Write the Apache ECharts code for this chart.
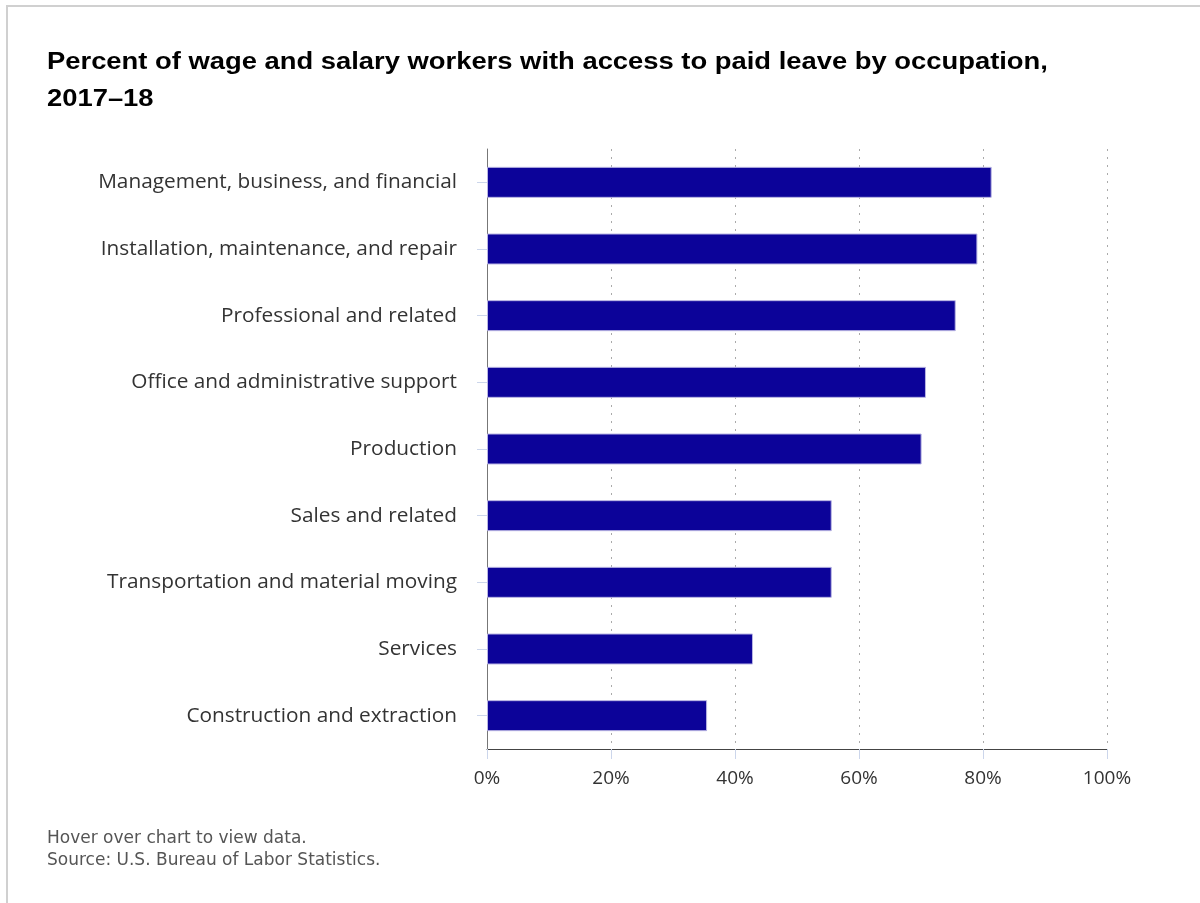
<!DOCTYPE html>
<html>
<head>
<meta charset="utf-8">
<script src="https://cdn.jsdelivr.net/npm/echarts@6/dist/echarts.min.js"></script>
<style>
  html, body { margin: 0; padding: 0; background: #fff; }
  #echarts { width: 1200px; height: 903px; }
</style>
</head>
<body>
<div id="echarts"></div>
<script>
// occupations, top to bottom as in the chart
const occupations = [
  'Management, business, and financial',
  'Installation, maintenance, and repair',
  'Professional and related',
  'Office and administrative support',
  'Production',
  'Sales and related',
  'Transportation and material moving',
  'Services',
  'Construction and extraction'
]
// percent with access to paid leave
const paidLeave = [81.4, 79.1, 75.6, 70.8, 70.1, 55.6, 55.6, 42.9, 35.5]
const xTicks = [0, 20, 40, 60, 80, 100]

const myChart = echarts.init(document.getElementById('echarts'))
myChart.setOption({
  animation: false,
  graphic: [
    {
      type: 'rect',
      shape: { x: 7, y: 6, width: 1300, height: 1000 },
      style: { fill: 'none', stroke: '#d0d0d0', lineWidth: 2 },
      silent: true
    },
    {
      // title, the reference text is drawn a bit wide
      type: 'text',
      x: 47,
      y: 44,
      scaleX: 1.19,
      style: {
        text: 'Percent of wage and salary workers with access to paid leave by occupation,\n2017\u201318',
        fontFamily: 'Liberation Sans',
        fontSize: 23,
        fontWeight: 'bold',
        lineHeight: 37,
        fill: '#000'
      }
    },
    {
      type: 'text',
      x: 47,
      y: 828,
      style: {
        text: 'Hover over chart to view data.\nSource: U.S. Bureau of Labor Statistics.',
        fontFamily: 'DejaVu Sans',
        fontSize: 17,
        lineHeight: 22,
        fill: '#555'
      }
    }
  ],
  grid: {
    left: 487,
    right: 93,
    top: 149,
    bottom: 154,
    containLabel: false
  },
  xAxis: {
    type: 'value',
    min: 0,
    max: 100,
    interval: 20,
    axisLine: { show: true, lineStyle: { color: '#444', width: 1 } },
    axisTick: { show: true, length: 10, lineStyle: { color: '#ccd6eb' } },
    splitLine: {
      show: true,
      lineStyle: { type: [2, 6], color: '#aaa', width: 1 }
    },
    axisLabel: {
      margin: 20,
      fontFamily: 'Open Sans',
      fontSize: 19,
      color: '#333',
      formatter: function (v) {
        return xTicks.indexOf(v) >= 0 ? v + '%' : ''
      }
    }
  },
  yAxis: {
    type: 'category',
    inverse: true,
    data: occupations,
    axisLine: { show: true, lineStyle: { color: '#777', width: 1 } },
    axisTick: { show: true, length: 10, alignWithLabel: true, lineStyle: { color: '#ccd6eb' } },
    axisLabel: {
      margin: 30,
      fontFamily: 'Open Sans',
      fontSize: 20.8,
      color: '#333'
    }
  },
  series: [
    {
      name: 'Paid leave',
      type: 'bar',
      data: paidLeave,
      barWidth: 31,
      itemStyle: {
        color: '#0c0399',
        borderColor: '#b9b5e3',
        borderWidth: 1
      }
    }
  ]
})
</script>
</body>
</html>
